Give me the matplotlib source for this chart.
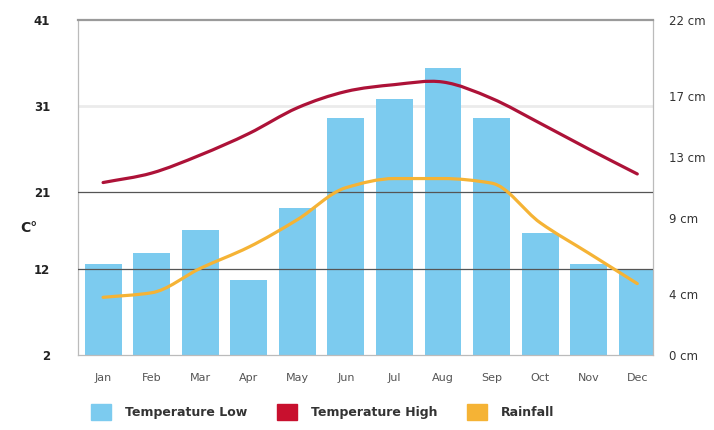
import numpy as np
import matplotlib
matplotlib.use('Agg')
import matplotlib.pyplot as plt
from matplotlib.path import Path
from matplotlib.patches import PathPatch, Patch

# 월별 기후 데이터
months = ['Jan', 'Feb', 'Mar', 'Apr', 'May', 'Jun', 'Jul', 'Aug', 'Sep', 'Oct', 'Nov', 'Dec']
temp_low = [12.6, 13.9, 16.6, 10.8, 19.1, 29.6, 31.8, 35.4, 29.6, 16.2, 12.6, 12.0]
temp_high = [22.1, 23.2, 25.3, 27.8, 30.8, 32.7, 33.5, 33.8, 31.9, 29.0, 26.0, 23.1]
rainfall = [3.8, 4.1, 5.7, 7.1, 8.9, 11.0, 11.6, 11.6, 11.3, 8.7, 6.7, 4.7]

temp_ticks = [2, 12, 21, 31, 41]
rain_ticks = [0, 4, 9, 13, 17, 22]

blue = '#7ccbef'
red = '#ad1238'
red_legend = '#c8102e'
orange = '#f5b335'


def smooth_path(x, y, monotone=True):
    # 접선을 구해 3차 베지어 곡선 경로로 변환
    x = np.asarray(x, float)
    y = np.asarray(y, float)
    h = np.diff(x)
    d = np.diff(y) / h
    m = np.zeros_like(y)
    m[0], m[-1] = d[0], d[-1]
    for i in range(1, len(y) - 1):
        if monotone:
            # Fritsch-Carlson 방식
            if d[i - 1] * d[i] <= 0:
                m[i] = 0.0
            else:
                m[i] = 2.0 / (1.0 / d[i - 1] + 1.0 / d[i])
        else:
            # Catmull-Rom 방식
            m[i] = (y[i + 1] - y[i - 1]) / (x[i + 1] - x[i - 1])
    verts = [(x[0], y[0])]
    codes = [Path.MOVETO]
    for i in range(len(x) - 1):
        verts += [(x[i] + h[i] / 3, y[i] + m[i] * h[i] / 3),
                  (x[i + 1] - h[i] / 3, y[i + 1] - m[i + 1] * h[i] / 3),
                  (x[i + 1], y[i + 1])]
        codes += [Path.CURVE4] * 3
    return Path(verts, codes)


fig = plt.figure(figsize=(7.14, 4.30), dpi=100)
ax = fig.add_axes([0.109, 0.174, 0.806, 0.779])
x = np.arange(len(months))

# 최저 기온 막대
ax.bar(x, temp_low, width=0.76, color=blue, zorder=2)

# 가로 기준선
ax.axhline(31, color='#ebebeb', lw=2.0, zorder=1)
ax.axhline(21, color='#555555', lw=0.9, zorder=3)
ax.axhline(12, color='#555555', lw=0.9, zorder=3)

# 최고 기온 곡선
ax.add_patch(PathPatch(smooth_path(x, temp_high, monotone=False), fill=False,
                       edgecolor=red, lw=2.3, capstyle='round', zorder=5))

ax.set_xlim(-0.52, 11.33)
ax.set_ylim(2, 41)
ax.set_yticks(temp_ticks)
ax.set_yticklabels([str(t) for t in temp_ticks])
ax.set_xticks(x)
ax.set_xticklabels(months)
ax.tick_params(axis='y', length=0, pad=20, labelsize=8.5, labelcolor='#222222')
ax.tick_params(axis='x', length=0, pad=13, labelsize=8, labelcolor='#555555')
for lab in ax.get_yticklabels():
    lab.set_fontweight('bold')

for side in ['left', 'right', 'bottom']:
    ax.spines[side].set_color('#bbbbbb')
    ax.spines[side].set_linewidth(0.9)
ax.spines['top'].set_color('#9a9a9a')
ax.spines['top'].set_linewidth(1.6)

# 강수량 (오른쪽 축)
ax2 = ax.twinx()
ax2.set_ylim(0, 22)
ax2.add_patch(PathPatch(smooth_path(x, rainfall), fill=False, edgecolor=orange,
                        lw=2.3, capstyle='round', zorder=5))
ax2.set_yticks(rain_ticks)
ax2.set_yticklabels([f'{t} cm' for t in rain_ticks])
ax2.tick_params(axis='y', length=0, pad=11, labelsize=8.5, labelcolor='#333333')
for spine in ax2.spines.values():
    spine.set_visible(False)

fig.text(0.04, 0.47, 'C°', fontsize=10, fontweight='bold', color='#222222',
         ha='center', va='center')

handles = [Patch(color=blue), Patch(color=red_legend), Patch(color=orange)]
labels = ['Temperature Low', 'Temperature High', 'Rainfall']
leg = fig.legend(handles, labels, loc='center left', bbox_to_anchor=(0.112, 0.042),
                 ncol=3, frameon=False, fontsize=9, handlelength=1.6,
                 handleheight=1.6, handletextpad=1.1, columnspacing=2.4)
for t in leg.get_texts():
    t.set_fontweight('bold')
    t.set_color('#333333')

fig.savefig('out.png', dpi=100)
